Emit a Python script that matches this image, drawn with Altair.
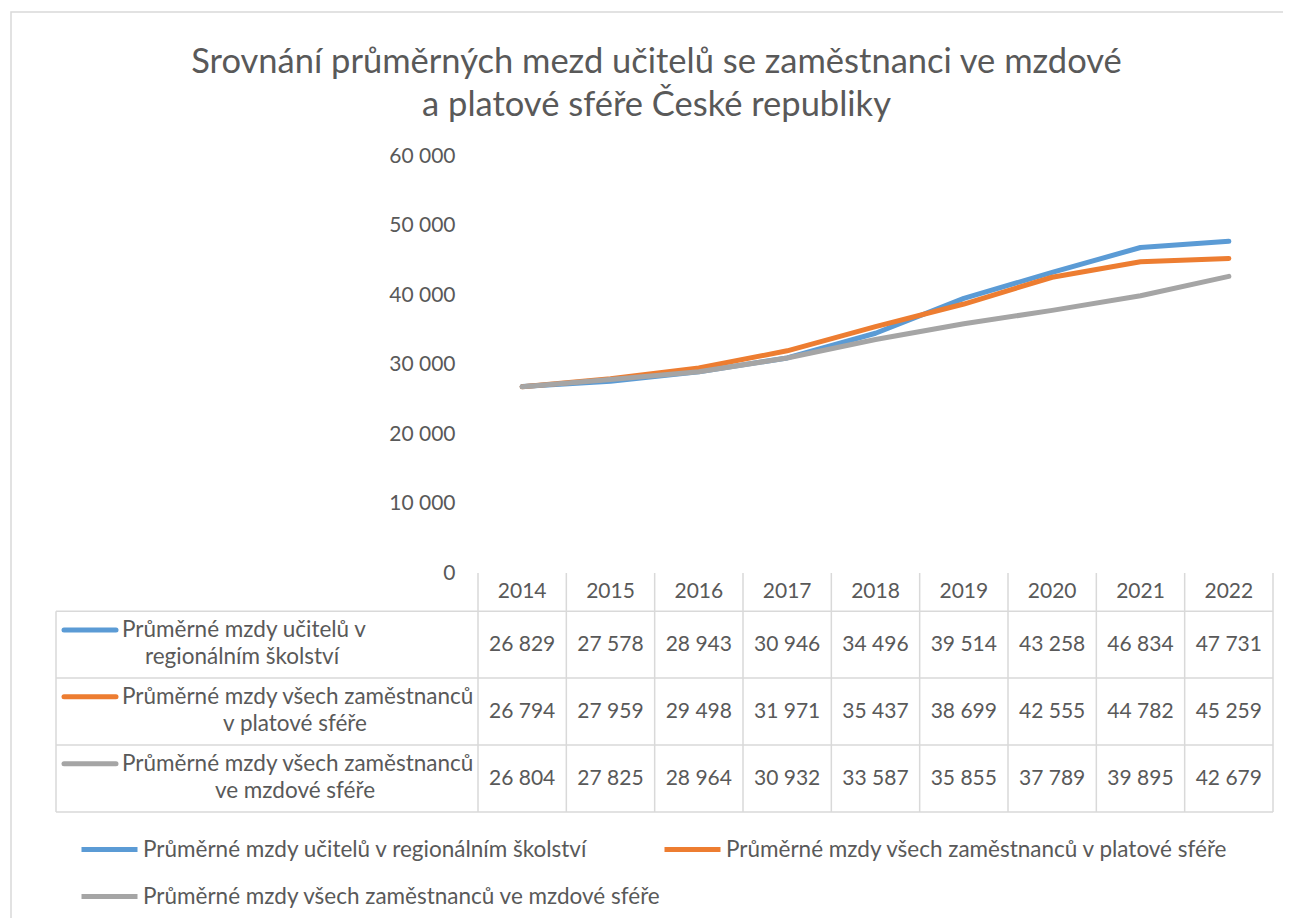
import altair as alt
import pandas as pd

# ---------------- data ----------------
years = [2014, 2015, 2016, 2017, 2018, 2019, 2020, 2021, 2022]
series = [
    "Průměrné mzdy učitelů v regionálním školství",
    "Průměrné mzdy všech zaměstnanců v platové sféře",
    "Průměrné mzdy všech zaměstnanců ve mzdové sféře",
]
teachers = [26829, 27578, 28943, 30946, 34496, 39514, 43258, 46834, 47731]
public_sector = [26794, 27959, 29498, 31971, 35437, 38699, 42555, 44782, 45259]
wage_sector = [26804, 27825, 28964, 30932, 33587, 35855, 37789, 39895, 42679]
label_line1 = ["Průměrné mzdy učitelů v", "Průměrné mzdy všech zaměstnanců", "Průměrné mzdy všech zaměstnanců"]
label_line2 = ["regionálním školství", "v platové sféře", "ve mzdové sféře"]
title_lines = ["Srovnání průměrných mezd učitelů se zaměstnanci ve mzdové",
               "a platové sféře České republiky"]
y_ticks = [0, 10000, 20000, 30000, 40000, 50000, 60000]

colors = ["#5B9BD5", "#ED7D31", "#A5A5A5"]
TEXT = "#595959"
GRID = "#D9D9D9"
FONT = "Lato"
FS = 21      # numbers
FS_T = 22.5  # words

# ---------------- tables ----------------
values = [teachers, public_sector, wage_sector]
rows = []
for i, (name, vals) in enumerate(zip(series, values)):
    for y, v in zip(years, vals):
        rows.append({"series": name, "year": y, "value": v, "row": i,
                     "ty": i + 0.5, "label": f"{v:,}".replace(",", " ")})
df = pd.DataFrame(rows)

hdr = pd.DataFrame({"year": years, "ty": [-0.285] * len(years),
                    "label": [str(y) for y in years]})
lab = pd.DataFrame({"series": series, "l1": label_line1, "l2": label_line2,
                    "y1": [i + 0.28 for i in range(3)], "y2": [i + 0.69 for i in range(3)]})
vlines = pd.DataFrame({"xb": [years[0] - 0.5 + k for k in range(len(years) + 1)],
                       "y0": [-0.57] * (len(years) + 1), "y1": [3] * (len(years) + 1)})
hlines = pd.DataFrame({"yb": [0, 1, 2, 3]})
one = pd.DataFrame({"a": [0]})

W, H = 795, 656
PLOT_H = 417

xscale = alt.Scale(domain=[years[0] - 0.5, years[-1] + 0.5], nice=False, zero=False)
yscale = alt.Scale(domain=[0, 60000], range=[PLOT_H, 0], nice=False, zero=True)
tscale = alt.Scale(domain=[-0.57, 3], range=[PLOT_H, H], nice=False, zero=False)
cscale = alt.Scale(domain=series, range=colors)

legend = alt.Legend(orient="none", legendX=-399, legendY=663, columns=2, title=None,
                    symbolType="stroke", symbolSize=3136, symbolStrokeWidth=5,
                    labelFontSize=FS_T, labelColor=TEXT, labelFont=FONT,
                    columnPadding=-14, rowPadding=5, labelLimit=800, padding=0,
                    labelOffset=3, direction="horizontal")

frame = alt.Chart(one).mark_rect(filled=False, stroke=GRID, strokeWidth=1.5).encode(
    x=alt.value(-467), y=alt.value(-144), x2=alt.value(1000), y2=alt.value(1000))

lines = alt.Chart(df).mark_line(strokeWidth=5, strokeCap="round", strokeJoin="round").encode(
    x=alt.X("year:Q", scale=xscale, axis=None),
    y=alt.Y("value:Q", scale=yscale,
            axis=alt.Axis(values=y_ticks, title=None, domain=False, ticks=False, tickSize=0,
                          labelPadding=23, labelFontSize=FS, labelColor=TEXT, labelFont=FONT,
                          gridColor=GRID, gridWidth=1.5,
                          labelExpr="replace(format(datum.value, ','), ',', ' ')")),
    color=alt.Color("series:N", scale=cscale, legend=legend),
)

cells = alt.Chart(df).mark_text(fontSize=FS, color=TEXT, font=FONT).encode(
    x=alt.X("year:Q", scale=xscale, axis=None),
    y=alt.Y("ty:Q", scale=tscale, axis=None),
    text="label:N",
)
header = alt.Chart(hdr).mark_text(fontSize=FS, color=TEXT, font=FONT).encode(
    x=alt.X("year:Q", scale=xscale, axis=None),
    y=alt.Y("ty:Q", scale=tscale, axis=None),
    text="label:N",
)
vrules = alt.Chart(vlines).mark_rule(color=GRID, strokeWidth=1.5).encode(
    x=alt.X("xb:Q", scale=xscale, axis=None),
    y=alt.Y("y0:Q", scale=tscale, axis=None), y2="y1:Q",
)
hrules = alt.Chart(hlines).mark_rule(color=GRID, strokeWidth=1.5).encode(
    x=alt.value(-422), x2=alt.value(W),
    y=alt.Y("yb:Q", scale=tscale, axis=None),
)
leftrule = alt.Chart(one).mark_rule(color=GRID, strokeWidth=1.5).encode(
    x=alt.value(-422),
    y=alt.Y(datum=0, scale=tscale, axis=None), y2=alt.Y2(datum=3),
)
swatch = alt.Chart(lab).mark_rule(strokeWidth=5, strokeCap="round").encode(
    x=alt.value(-414), x2=alt.value(-362),
    y=alt.Y("y1:Q", scale=tscale, axis=None),
    color=alt.Color("series:N", scale=cscale, legend=legend),
)
line1 = alt.Chart(lab).mark_text(align="left", fontSize=FS_T, color=TEXT, font=FONT).encode(
    x=alt.value(-356),
    y=alt.Y("y1:Q", scale=tscale, axis=None),
    text="l1:N",
)
centers = [-236, -183, -183]
line2_layers = [
    alt.Chart(lab.iloc[[i]]).mark_text(align="center", fontSize=FS_T, color=TEXT, font=FONT).encode(
        x=alt.value(centers[i]),
        y=alt.Y("y2:Q", scale=tscale, axis=None),
        text="l2:N",
    )
    for i in range(3)
]

chart = alt.layer(frame, vrules, hrules, leftrule, lines, cells, header, swatch, line1,
                  *line2_layers).resolve_scale(y="independent").properties(
    width=W, height=H,
    autosize=alt.AutoSizeParams(type="none"),
    padding={"left": 470, "top": 148, "right": 10, "bottom": 106},
    title=alt.Title(title_lines, fontSize=34.5, font=FONT, fontWeight="normal", color=TEXT,
                    anchor="middle", dx=-219, offset=-112, lineHeight=43),
).configure(font=FONT, view=alt.ViewConfig(stroke=None))

chart.save("out.html", embed_options={"renderer": "svg", "actions": False})
